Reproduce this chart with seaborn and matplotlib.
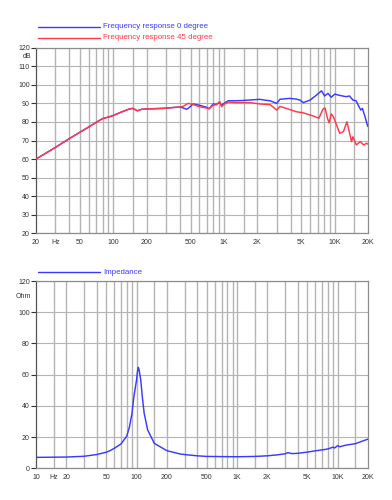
import matplotlib
matplotlib.use("Agg")
import matplotlib.pyplot as plt
from matplotlib.lines import Line2D
import matplotlib.ticker as mticker
import numpy as np
import pandas as pd
import seaborn as sns

# ---------------- data ----------------
freq_0 = [20, 30, 40, 50, 60, 70, 80, 90, 100, 120, 140, 150, 165, 180, 200, 250, 300, 350, 400,
          430, 460, 490, 526, 600, 695, 733, 797, 850, 914, 950, 1000, 1090, 1300, 1500, 1720,
          2100, 2300, 2610, 3000, 3200, 3930, 4500, 4850, 5200, 6000, 6860, 7600, 8100, 8700,
          9300, 10000, 11100, 12700, 13600, 14600, 15600, 17200, 17800, 18800, 19700, 20000]
spl_0 = [60, 66.3, 71, 74.5, 77.3, 79.8, 81.8, 82.6, 83.5, 85.5, 87, 87.3, 86, 86.8, 87, 87.2, 87.4, 87.8, 88,
         87.5, 86.8, 88, 89.7, 89, 87.9, 87.1, 89.7, 89.5, 90.4, 89, 90, 91.4, 91.4, 91.6, 91.8,
         92.2, 91.8, 91.4, 90, 92.2, 92.7, 92.3, 91.8, 90.4, 91.8, 94.5, 96.8, 94, 95.4,
         93.3, 95, 94.3, 93.6, 94, 91.8, 91.4, 86.4, 87.3, 82.8, 78.4, 77.5]

freq_45 = [20, 30, 40, 50, 60, 70, 80, 90, 100, 120, 140, 150, 165, 180, 200, 250, 300, 350, 400,
           430, 474, 526, 600, 695, 733, 797, 850, 914, 950, 1000, 1090, 1300, 1720, 2100, 2610,
           3000, 3200, 3650, 4500, 5200, 6400, 7200, 7850, 8200, 8600, 8900, 9300, 9700, 10000,
           11100, 12000, 12900, 14200, 14600, 15700, 17000, 18300, 19400, 20000]
spl_45 = [60, 66.3, 71, 74.5, 77.3, 79.8, 81.8, 82.6, 83.5, 85.5, 87, 87.3, 86, 86.8, 87, 87.2, 87.4, 87.8, 88,
          88.5, 90, 89.4, 88.2, 87.5, 87.1, 89, 89.2, 91, 88.2, 89.5, 90.7, 90.4, 90.4, 89.7, 89.3,
          86.4, 88.4, 87.3, 85.5, 84.9, 83.2, 82, 87, 87.5, 82, 79.5, 84.3, 83, 81,
          73.9, 74.8, 80.1, 69.4, 72, 67.6, 69.4, 67.6, 68.5, 68]

freq_z = [10, 20, 30, 40, 50, 54, 60, 70, 80, 85, 90, 94, 100, 102, 104, 106, 110, 114, 119, 129,
          150, 200, 270, 300, 400, 500, 1000, 1500, 2000, 2500, 3000, 3200, 3500, 4000, 5000,
          6000, 7000, 8000, 9000, 9300, 10000, 10500, 12000, 15000, 20000]
imp_z = [7.0, 7.2, 7.7, 8.8, 10.3, 11.2, 12.8, 15.6, 20.7, 26.6, 35.2, 45.9, 56.6, 61.9, 64.7, 63, 56.6, 45.9, 35.2, 24.5,
         16.0, 11.3, 9.2, 8.8, 8.0, 7.6, 7.4, 7.6, 8.0, 8.6, 9.3, 10.0, 9.4, 9.6, 10.4,
         11.2, 11.8, 12.4, 13.6, 13.0, 14.5, 13.8, 14.8, 15.8, 18.7]

top_xticks = [20, 30, 50, 100, 200, 500, 1000, 2000, 5000, 10000, 20000]
top_xlabels = ["20", "Hz", "50", "100", "200", "500", "1K", "2K", "5K", "10K", "20K"]
bot_xticks = [10, 15, 20, 50, 100, 200, 500, 1000, 2000, 5000, 10000, 20000]
bot_xlabels = ["10", "Hz", "20", "50", "100", "200", "500", "1K", "2K", "5K", "10K", "20K"]
top_yticks = list(range(20, 121, 10))
bot_yticks = list(range(0, 121, 20))

legend_top = ["Frequency response 0 degree", "Frequency response 45 degree"]
legend_bot = ["Impedance"]

# ---------------- style ----------------
sns.set_style("white")
plt.rcParams["font.family"] = ["Liberation Sans", "DejaVu Sans"]

BLUE = "#3a3aff"
RED = "#ff3a48"
GRID = "#b4b4b4"
TXT = "#333333"

W, H = 392, 500
fig = plt.figure(figsize=(W / 100, H / 100), dpi=100)
fig.patch.set_facecolor("white")

ax1 = fig.add_axes([36 / W, 1 - 233.3 / H, 332 / W, (233.3 - 47.7) / H])
ax2 = fig.add_axes([36 / W, 1 - 468.3 / H, 332 / W, (468.3 - 281) / H])

df0 = pd.DataFrame({"f": freq_0, "v": spl_0})
df45 = pd.DataFrame({"f": freq_45, "v": spl_45})
dfz = pd.DataFrame({"f": freq_z, "v": imp_z})

sns.lineplot(data=df0, x="f", y="v", ax=ax1, color=BLUE, lw=1.05, zorder=3)
sns.lineplot(data=df45, x="f", y="v", ax=ax1, color=RED, lw=1.05, zorder=4)
sns.lineplot(data=dfz, x="f", y="v", ax=ax2, color=BLUE, lw=1.05, zorder=3)


def grid_positions(lo, hi):
    out = []
    d = 1
    while d <= hi:
        for m in [1, 1.5, 2, 3, 4, 5, 6, 7, 8, 9]:
            v = m * d
            if lo < v < hi:
                out.append(v)
        d *= 10
    return out


def style_axis(ax, xlo, xhi, ylo, yhi, xticks, xlabels, yticks, unit, unit_y):
    ax.set_xscale("log")
    ax.set_xlim(xlo, xhi)
    ax.set_ylim(ylo, yhi)
    ax.set_xlabel("")
    ax.set_ylabel("")
    ax.xaxis.set_major_locator(mticker.FixedLocator(xticks))
    ax.xaxis.set_major_formatter(mticker.FixedFormatter(xlabels))
    ax.xaxis.set_minor_locator(mticker.NullLocator())
    ax.set_yticks(yticks)
    ax.set_yticklabels([str(v) for v in yticks])
    ax.tick_params(axis="x", which="both", length=0, pad=4, labelsize=5, colors=TXT)
    ax.tick_params(axis="y", which="major", length=3.5, width=0.8, pad=1, labelsize=5,
                   colors=TXT, direction="out", left=True)
    ax.grid(False)
    ax.grid(True, axis="y", which="major", color=GRID, lw=0.8, zorder=0)
    for v in grid_positions(xlo, xhi):
        ax.axvline(v, color=GRID, lw=1.0, zorder=0)
    for s in ax.spines.values():
        s.set_color("#8c8c8c")
        s.set_linewidth(0.9)
    ax.spines["left"].set_color("#555555")
    ax.text(-0.014, unit_y, unit, transform=ax.get_yaxis_transform(), ha="right",
            va="center", fontsize=5, color=TXT)


style_axis(ax1, 20, 20000, 20, 120, top_xticks, top_xlabels, top_yticks, "dB", 115)
style_axis(ax2, 10, 20000, 0, 120, bot_xticks, bot_xlabels, bot_yticks, "Ohm", 110)

# legends (drawn as figure-level key lines + text)
def key(y_px, color, label):
    fig.add_artist(Line2D([38 / W, 100 / W], [1 - y_px / H, 1 - y_px / H], color=color, lw=1.0))
    fig.text(103 / W, 1 - y_px / H, label, color=color, fontsize=5.7, ha="left", va="center")

key(27, BLUE, legend_top[0])
key(37.7, RED, legend_top[1])
key(272, BLUE, legend_bot[0])

fig.savefig("out.png", dpi=100, facecolor="white")
